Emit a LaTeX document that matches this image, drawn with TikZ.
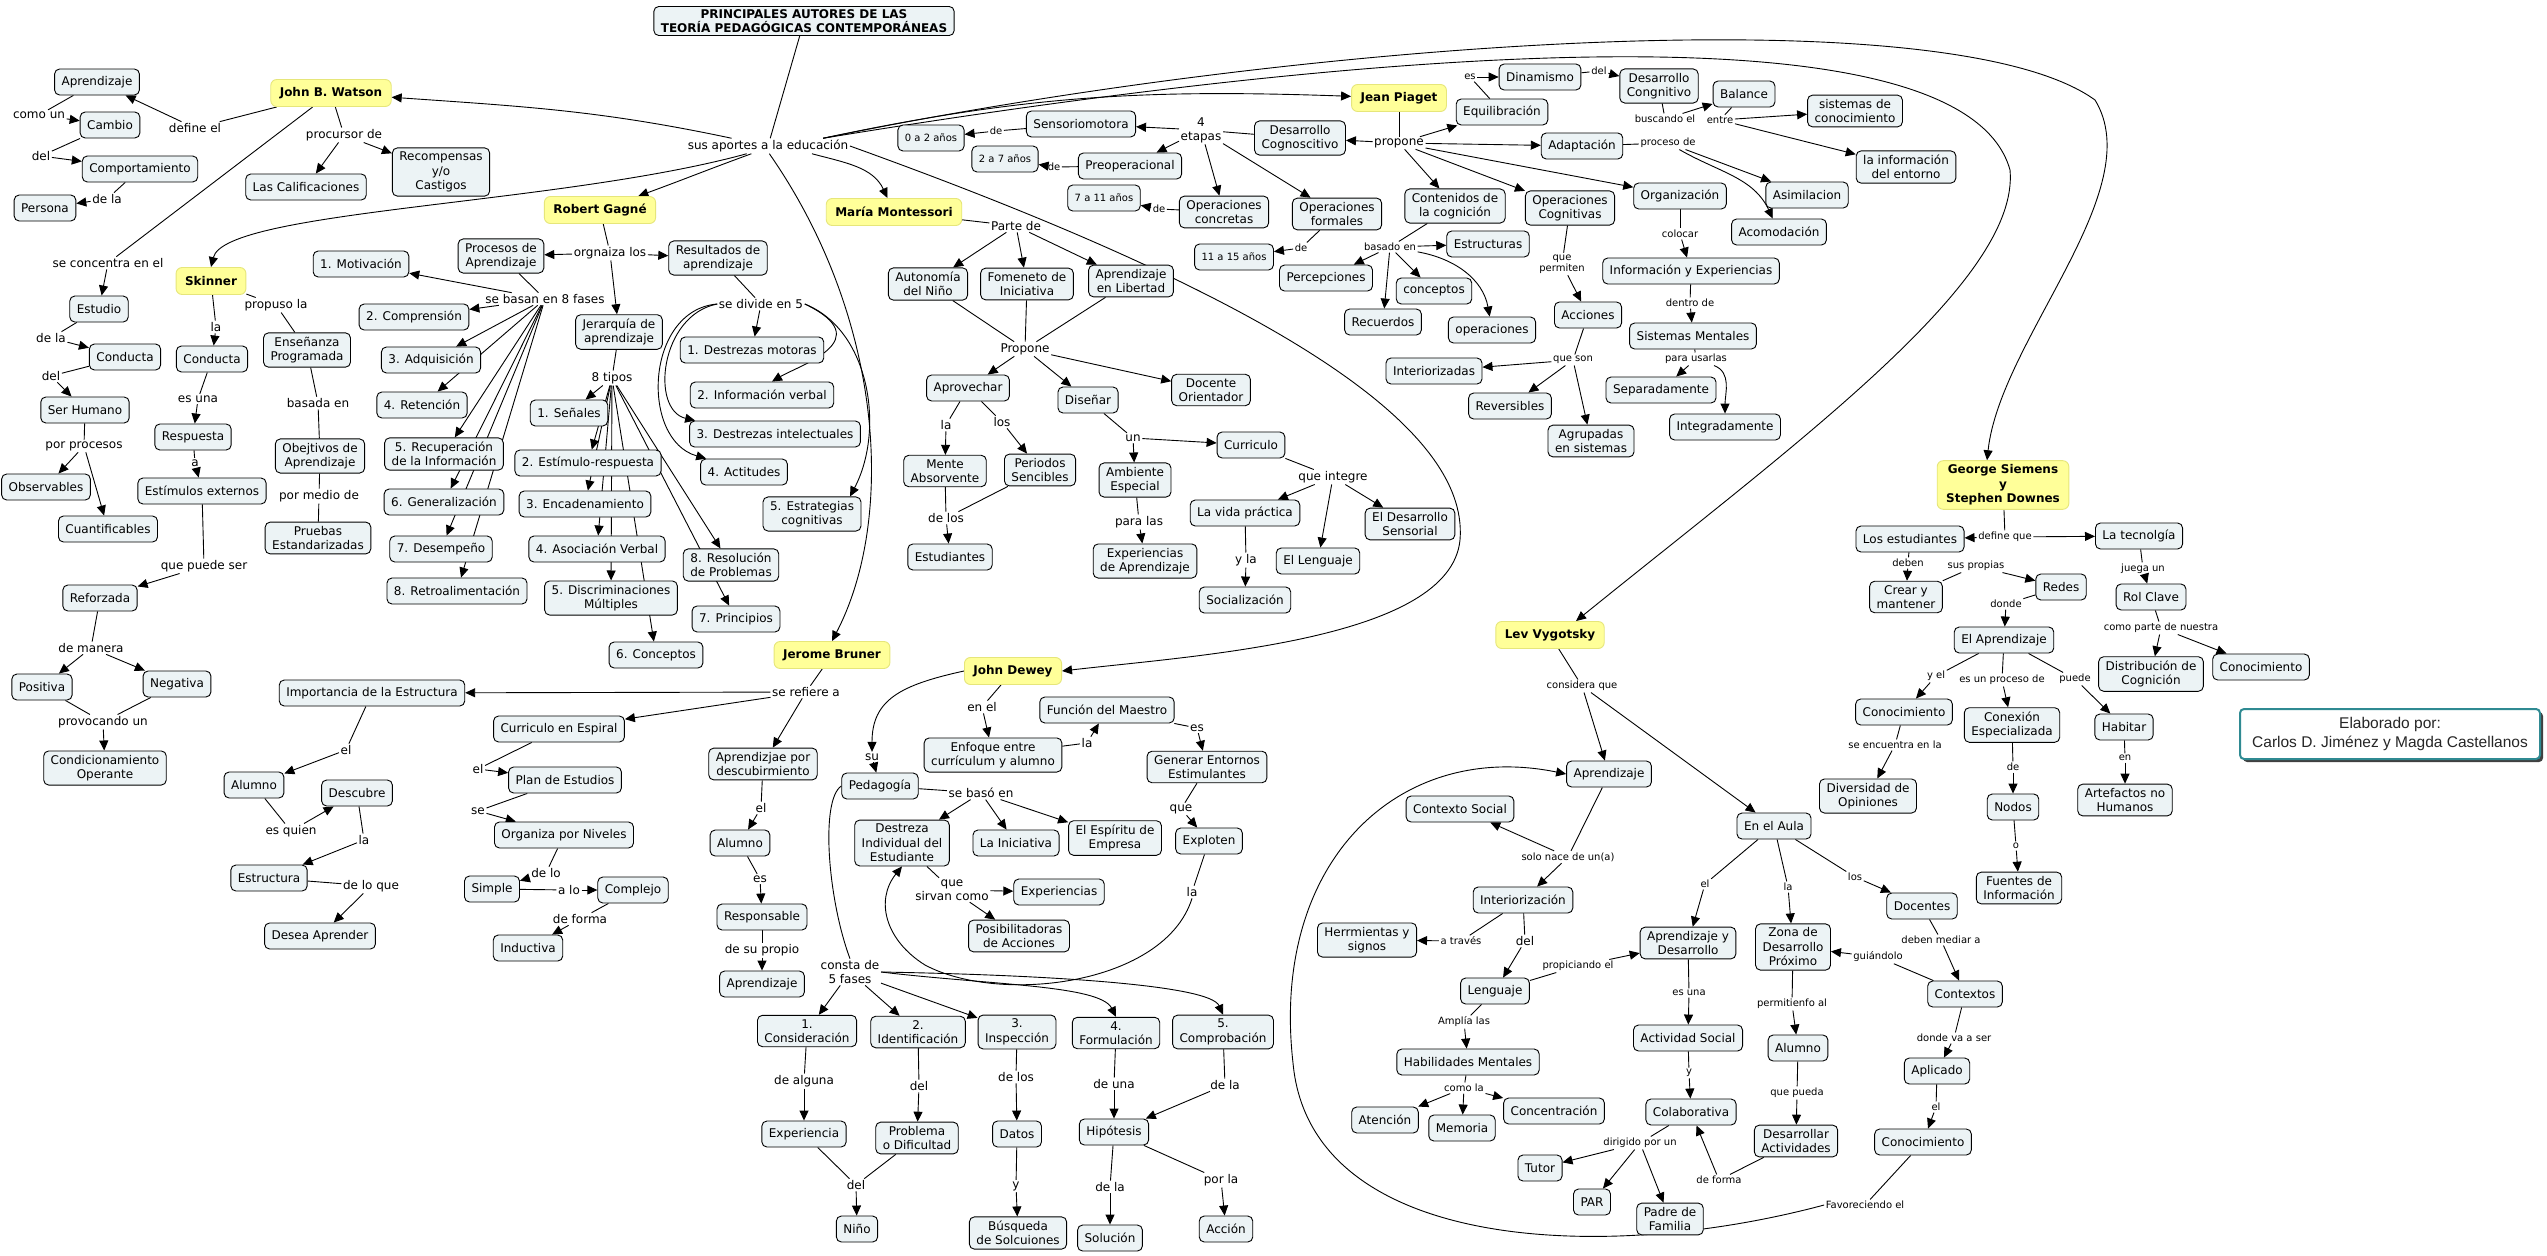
\documentclass[tikz,border=0pt]{standalone}
\usepackage{fontspec}
\setmainfont{DejaVu Sans}
\newfontfamily\creditfont{Liberation Sans}
\usetikzlibrary{arrows.meta, shadows, calc}
\definecolor{ConceptFill}{HTML}{ECF3F5}
\definecolor{AuthorYellow}{HTML}{FFFF99}
\definecolor{AuthorEdge}{HTML}{E6E67A}
\definecolor{CreditTeal}{HTML}{2F8A92}
\pgfdeclarelayer{links}
\pgfsetlayers{links,main}

\begin{document}
\begin{tikzpicture}[x=1pt, y=-1pt,
    concept/.style={draw=black, line width=0.9pt, fill=ConceptFill, rounded corners=5pt, inner xsep=7pt, inner ysep=4pt, minimum height=26pt, align=center, font=\fontsize{12}{14.5}\selectfont},
    ageBox/.style={concept, font=\fontsize{10}{12}\selectfont},
    author/.style={draw=AuthorEdge, line width=0.9pt, fill=AuthorYellow, rounded corners=6pt, inner xsep=9pt, inner ysep=4pt, minimum height=27pt, align=center, font=\bfseries\fontsize{12}{14.5}\selectfont},
    linkText/.style={inner sep=1.5pt, align=center, font=\fontsize{12}{14}\selectfont},
    smallText/.style={inner sep=1.5pt, align=center, font=\fontsize{10}{11.5}\selectfont},
    toArrow/.style={draw, line width=0.9pt, -{Triangle[length=10pt,width=9pt]}},
    plainLink/.style={draw, line width=0.9pt}]

    % Title
    \node[concept, font=\bfseries\fontsize{12}{14}\selectfont, inner ysep=3pt] (titulo) at (804,21) {PRINCIPALES AUTORES DE LAS\\TEORÍA PEDAGÓGICAS CONTEMPORÁNEAS};
    \node[linkText] (lAportes) at (768,146) {sus aportes a la educación};

    % John B. Watson
    \node[author] (watson) at (331,93) {John B. Watson};
    \node[linkText] (lDefine) at (195,128) {define el};
    \node[concept] (wAprend) at (97,82) {Aprendizaje};
    \node[linkText] (lComoUn) at (39,115) {como un};
    \node[concept] (wCambio) at (110,125) {Cambio};
    \node[linkText] (lDelW) at (41,156) {del};
    \node[concept] (wComport) at (140,169) {Comportamiento};
    \node[linkText] (lDeLaW) at (107,199) {de la};
    \node[concept] (wPersona) at (45,208) {Persona};
    \node[linkText] (lProcursor) at (344,135) {procursor de};
    \node[concept] (wCalif) at (306,187) {Las Calificaciones};
    \node[concept] (wRecomp) at (441,172) {Recompensas\\y/o\\Castigos};
    \node[linkText] (lConcentra) at (108,263) {se concentra en el};
    \node[concept] (wEstudio) at (99,309) {Estudio};
    \node[linkText] (lDeLaW2) at (51,338) {de la};
    \node[concept] (wConducta) at (125,357) {Conducta};
    \node[linkText] (lDelW2) at (51,376) {del};
    \node[concept] (wSerHum) at (85,410) {Ser Humano};
    \node[linkText] (lProcesos) at (84,446) {por procesos};
    \node[concept] (wObserv) at (46,487) {Observables};
    \node[concept] (wCuant) at (108,529) {Cuantificables};

    % Skinner
    \node[author] (skinner) at (211,281) {Skinner};
    \node[linkText] (lLaS) at (216,327) {la};
    \node[concept] (skConducta) at (212,359) {Conducta};
    \node[linkText] (lEsUna) at (198,399) {es una};
    \node[concept] (skRespuesta) at (193,437) {Respuesta};
    \node[linkText] (lA) at (195,463) {a};
    \node[concept] (skEstimulos) at (202,491) {Estímulos externos};
    \node[linkText] (lPuedeSer) at (204,566) {que puede ser};
    \node[concept] (skReforzada) at (100,598) {Reforzada};
    \node[linkText] (lManera) at (91,648) {de manera};
    \node[concept] (skPositiva) at (42,687) {Positiva};
    \node[concept] (skNegativa) at (177,684) {Negativa};
    \node[linkText] (lProvocando) at (103,722) {provocando un};
    \node[concept] (skCondic) at (105,768) {Condicionamiento\\Operante};
    \node[linkText] (lPropuso) at (276,305) {propuso la};
    \node[concept] (skEnsenanza) at (307,350) {Enseñanza\\Programada};
    \node[linkText] (lBasada) at (318,403) {basada en};
    \node[concept] (skObjetivos) at (320,456) {Obejtivos de\\Aprendizaje};
    \node[linkText] (lMedio) at (319,496) {por medio de};
    \node[concept] (skPruebas) at (318,538) {Pruebas\\Estandarizadas};

    % Robert Gagne
    \node[author] (gagne) at (600,210) {Robert Gagné};
    \node[linkText] (lOrganiza) at (610,253) {orgnaiza los};
    \node[concept] (gProcesos) at (501,256) {Procesos de\\Aprendizaje};
    \node[concept] (gResultados) at (718,258) {Resultados de\\aprendizaje};
    \node[concept] (gJerarquia) at (619,332) {Jerarquía de\\aprendizaje};
    \node[linkText] (lOchoFases) at (545,299) {se basan en 8 fases};
    \node[concept] (gMotiv) at (361,264) {1. Motivación};
    \node[concept] (gCompr) at (414,317) {2. Comprensión};
    \node[concept] (gAdqui) at (431,360) {3. Adquisición};
    \node[concept] (gReten) at (422,405) {4. Retención};
    \node[concept] (gRecup) at (444,454) {5. Recuperación\\de la Información};
    \node[concept] (gGener) at (444,502) {6. Generalización};
    \node[concept] (gDesem) at (441,549) {7. Desempeño};
    \node[concept] (gRetro) at (457,591) {8. Retroalimentación};
    \node[linkText] (lOchoTipos) at (612,378) {8 tipos};
    \node[concept] (gSenales) at (569,413) {1. Señales};
    \node[concept] (gEstResp) at (588,463) {2. Estímulo-respuesta};
    \node[concept] (gEncad) at (585,504) {3. Encadenamiento};
    \node[concept] (gAsoc) at (597,549) {4. Asociación Verbal};
    \node[concept] (gDiscr) at (611,598) {5. Discriminaciones\\Múltiples};
    \node[concept] (gConc) at (656,655) {6. Conceptos};
    \node[concept] (gPrinc) at (736,619) {7. Principios};
    \node[concept] (gResol) at (731,565) {8. Resolución\\de Problemas};
    \node[linkText] (lDivide) at (761,304) {se divide en 5};
    \node[concept] (gMotoras) at (752,350) {1. Destrezas motoras};
    \node[concept] (gVerbal) at (762,395) {2. Información verbal};
    \node[concept] (gIntelec) at (775,434) {3. Destrezas intelectuales};
    \node[concept] (gActit) at (744,472) {4. Actitudes};
    \node[concept] (gEstrat) at (812,514) {5. Estrategias\\cognitivas};

    % Jerome Bruner
    \node[author] (bruner) at (832,655) {Jerome Bruner};
    \node[linkText] (lRefiere) at (806,692) {se refiere a};
    \node[concept] (bImport) at (372,693) {Importancia de la Estructura};
    \node[concept] (bCurric) at (559,729) {Curriculo en Espiral};
    \node[concept] (bDescub) at (763,764) {Aprendizjae por\\descubirmiento};
    \node[linkText] (lElB1) at (346,750) {el};
    \node[concept] (bAlumno1) at (254,785) {Alumno};
    \node[linkText] (lEsQuien) at (291,831) {es quien};
    \node[concept] (bDescubre) at (357,793) {Descubre};
    \node[linkText] (lLaB) at (364,840) {la};
    \node[concept] (bEstruct) at (269,878) {Estructura};
    \node[linkText] (lLoQue) at (371,886) {de lo que};
    \node[concept] (bDesea) at (320,936) {Desea Aprender};
    \node[linkText] (lElB2) at (478,769) {el};
    \node[concept] (bPlan) at (565,780) {Plan de Estudios};
    \node[linkText] (lSe) at (478,811) {se};
    \node[concept] (bOrganiza) at (564,835) {Organiza por Niveles};
    \node[linkText] (lDeLo) at (546,873) {de lo};
    \node[concept] (bSimple) at (492,889) {Simple};
    \node[linkText] (lALo) at (569,890) {a lo};
    \node[concept] (bComplejo) at (633,890) {Complejo};
    \node[linkText] (lDeForma) at (580,919) {de forma};
    \node[concept] (bInductiva) at (528,948) {Inductiva};
    \node[linkText] (lElB3) at (761,808) {el};
    \node[concept] (bAlumno2) at (740,843) {Alumno};
    \node[linkText] (lEsB) at (760,879) {es};
    \node[concept] (bRespons) at (762,917) {Responsable};
    \node[linkText] (lPropio) at (762,950) {de su propio};
    \node[concept] (bAprend) at (762,984) {Aprendizaje};

    % Maria Montessori
    \node[author] (montessori) at (894,212) {María Montessori};
    \node[linkText] (lParte) at (1016,226) {Parte de};
    \node[concept] (mAutonomia) at (928,284) {Autonomía\\del Niño};
    \node[concept] (mFomento) at (1027,284) {Fomeneto de\\Iniciativa};
    \node[concept] (mLibertad) at (1131,281) {Aprendizaje\\en Libertad};
    \node[linkText] (lPropone) at (1025,349) {Propone};
    \node[concept] (mAprovechar) at (968,388) {Aprovechar};
    \node[concept] (mDisenar) at (1088,400) {Diseñar};
    \node[concept] (mDocente) at (1211,390) {Docente\\Orientador};
    \node[linkText] (lLaM) at (946,425) {la};
    \node[linkText] (lLosM) at (1002,422) {los};
    \node[concept] (mMente) at (945,471) {Mente\\Absorvente};
    \node[concept] (mPeriodos) at (1040,470) {Periodos\\Sencibles};
    \node[linkText] (lDeLos) at (946,518) {de los};
    \node[concept] (mEstud) at (950,557) {Estudiantes};
    \node[linkText] (lUn) at (1133,438) {un};
    \node[concept] (mAmbiente) at (1135,480) {Ambiente\\Especial};
    \node[concept] (mCurric) at (1251,445) {Curriculo};
    \node[linkText] (lParaLas) at (1139,522) {para las};
    \node[concept] (mExper) at (1145,561) {Experiencias\\de Aprendizaje};
    \node[linkText] (lIntegre) at (1333,477) {que integre};
    \node[concept] (mVida) at (1245,513) {La vida práctica};
    \node[concept] (mLenguaje) at (1318,561) {El Lenguaje};
    \node[concept] (mSensorial) at (1410,524) {El Desarrollo\\Sensorial};
    \node[linkText] (lYLa) at (1246,560) {y la};
    \node[concept] (mSocial) at (1245,600) {Socialización};

    % Jean Piaget
    \node[author] (piaget) at (1399,98) {Jean Piaget};
    \node[linkText] (lProponeP) at (1399,143) {propone};
    \node[concept] (pDesCog) at (1300,138) {Desarrollo\\Cognoscitivo};
    \node[linkText] (lEtapas) at (1201,130) {4\\etapas};
    \node[concept] (pSensorio) at (1081,124) {Sensoriomotora};
    \node[smallText] (lDe1) at (996,131) {de};
    \node[ageBox] (pEdad1) at (931,138) {0 a 2 años};
    \node[concept] (pPreop) at (1130,166) {Preoperacional};
    \node[smallText] (lDe2) at (1054,167) {de};
    \node[ageBox] (pEdad2) at (1005,159) {2 a 7 años};
    \node[concept] (pConcretas) at (1224,212) {Operaciones\\concretas};
    \node[smallText] (lDe3) at (1159,209) {de};
    \node[ageBox] (pEdad3) at (1104,198) {7 a 11 años};
    \node[concept] (pFormales) at (1337,214) {Operaciones\\formales};
    \node[smallText] (lDe4) at (1301,248) {de};
    \node[ageBox] (pEdad4) at (1234,257) {11 a 15 años};
    \node[smallText] (lEs) at (1470,77) {es};
    \node[concept] (pEquilib) at (1502,112) {Equilibración};
    \node[concept] (pDinam) at (1540,77) {Dinamismo};
    \node[smallText] (lDelP) at (1599,71) {del};
    \node[concept] (pDesCong) at (1659,86) {Desarrollo\\Congnitivo};
    \node[smallText] (lBuscando) at (1665,119) {buscando el};
    \node[concept] (pBalance) at (1744,94) {Balance};
    \node[smallText] (lEntre) at (1720,120) {entre};
    \node[concept] (pSistCon) at (1855,111) {sistemas de\\conocimiento};
    \node[concept] (pInfoEnt) at (1906,167) {la información\\del entorno};
    \node[concept] (pAdapt) at (1582,146) {Adaptación};
    \node[smallText] (lProceso) at (1668,143) {proceso de};
    \node[concept] (pAsim) at (1807,195) {Asimilacion};
    \node[concept] (pAcom) at (1779,232) {Acomodación};
    \node[concept] (pOrgan) at (1680,196) {Organización};
    \node[smallText] (lColocar) at (1680,234) {colocar};
    \node[concept] (pInfoExp) at (1691,271) {Información y Experiencias};
    \node[smallText] (lDentro) at (1690,303) {dentro de};
    \node[concept] (pSistMen) at (1693,336) {Sistemas Mentales};
    \node[smallText] (lUsarlas) at (1696,359) {para usarlas};
    \node[concept] (pSepar) at (1661,390) {Separadamente};
    \node[concept] (pIntegr) at (1725,427) {Integradamente};
    \node[concept] (pContenidos) at (1455,206) {Contenidos de\\la cognición};
    \node[smallText] (lBasado) at (1390,247) {basado en};
    \node[concept] (pEstruct) at (1488,244) {Estructuras};
    \node[concept] (pPercep) at (1326,278) {Percepciones};
    \node[concept] (pConceptos) at (1434,291) {conceptos};
    \node[concept] (pRecuerdos) at (1383,322) {Recuerdos};
    \node[concept] (pOperac) at (1492,330) {operaciones};
    \node[concept] (pOpCog) at (1570,208) {Operaciones\\Cognitivas};
    \node[smallText] (lPermiten) at (1562,264) {que\\permiten};
    \node[concept] (pAcciones) at (1588,315) {Acciones};
    \node[smallText] (lQueSon) at (1573,360) {que son};
    \node[concept] (pInterior) at (1434,371) {Interiorizadas};
    \node[concept] (pRevers) at (1510,406) {Reversibles};
    \node[concept] (pAgrup) at (1591,441) {Agrupadas\\en sistemas};

    % John Dewey
    \node[author] (dewey) at (1013,671) {John Dewey};
    \node[linkText] (lSu) at (872,757) {su};
    \node[concept] (dPedag) at (880,786) {Pedagogía};
    \node[linkText] (lEnEl) at (982,707) {en el};
    \node[concept] (dEnfoque) at (993,755) {Enfoque entre\\currículum y alumno};
    \node[linkText] (lLaD) at (1087,743) {la};
    \node[concept] (dFuncion) at (1107,710) {Función del Maestro};
    \node[linkText] (lEsD) at (1197,728) {es};
    \node[concept] (dGenerar) at (1207,767) {Generar Entornos\\Estimulantes};
    \node[linkText] (lQue) at (1181,809) {que};
    \node[concept] (dExploten) at (1209,841) {Exploten};
    \node[linkText] (lLaD2) at (1192,892) {la};
    \node[linkText] (lBaso) at (981,793) {se basó en};
    \node[concept] (dDestreza) at (902,843) {Destreza\\Individual del\\Estudiante};
    \node[concept] (dIniciativa) at (1016,843) {La Iniciativa};
    \node[concept] (dEspiritu) at (1115,838) {El Espíritu de\\Empresa};
    \node[linkText] (lSirvan) at (952,890) {que\\sirvan como};
    \node[concept] (dExper) at (1059,892) {Experiencias};
    \node[concept] (dPosib) at (1019,936) {Posibilitadoras\\de Acciones};
    \node[linkText] (lConsta) at (850,972) {consta de\\5 fases};
    \node[concept] (dFase1) at (807,1031) {1.\\Consideración};
    \node[concept] (dFase2) at (918,1032) {2.\\Identificación};
    \node[concept] (dFase3) at (1017,1032) {3.\\Inspección};
    \node[concept] (dFase4) at (1116,1033) {4.\\Formulación};
    \node[concept] (dFase5) at (1223,1032) {5.\\Comprobación};
    \node[linkText] (lAlguna) at (804,1081) {de alguna};
    \node[linkText] (lDelD) at (919,1086) {del};
    \node[linkText] (lDeLosD) at (1016,1077) {de los};
    \node[linkText] (lDeUna) at (1114,1084) {de una};
    \node[linkText] (lDeLaD) at (1225,1085) {de la};
    \node[concept] (dExperiencia) at (804,1134) {Experiencia};
    \node[concept] (dProblema) at (917,1138) {Problema\\o Dificultad};
    \node[concept] (dDatos) at (1017,1134) {Datos};
    \node[concept] (dHipot) at (1114,1132) {Hipótesis};
    \node[linkText] (lDelD2) at (856,1185) {del};
    \node[linkText] (lY) at (1016,1186) {y};
    \node[linkText] (lDeLaD2) at (1110,1187) {de la};
    \node[linkText] (lPorLa) at (1221,1180) {por la};
    \node[concept] (dNino) at (857,1229) {Niño};
    \node[concept] (dBusq) at (1018,1233) {Búsqueda\\de Solcuiones};
    \node[concept] (dSolucion) at (1110,1238) {Solución};
    \node[concept] (dAccion) at (1226,1229) {Acción};

    % Lev Vygotsky
    \node[author] (vygotsky) at (1550,635) {Lev Vygotsky};
    \node[smallText] (lConsidera) at (1582,686) {considera que};
    \node[concept] (vAprend) at (1609,774) {Aprendizaje};
    \node[concept] (vAula) at (1774,826) {En el Aula};
    \node[smallText] (lNace) at (1568,857) {solo nace de un(a)};
    \node[concept] (vContexto) at (1460,809) {Contexto Social};
    \node[concept] (vInterior) at (1523,900) {Interiorización};
    \node[smallText] (lTraves) at (1461,941) {a través};
    \node[concept] (vHerram) at (1367,940) {Herrmientas y\\signos};
    \node[linkText] (lDelV) at (1525,941) {del};
    \node[concept] (vLenguaje) at (1495,991) {Lenguaje};
    \node[smallText] (lPropiciando) at (1578,966) {propiciando el};
    \node[concept] (vAprDes) at (1688,943) {Aprendizaje y\\Desarrollo};
    \node[smallText] (lAmplia) at (1464,1022) {Amplía las};
    \node[concept] (vHabil) at (1468,1062) {Habilidades Mentales};
    \node[smallText] (lComoLa) at (1464,1088) {como la};
    \node[concept] (vAtencion) at (1385,1120) {Atención};
    \node[concept] (vMemoria) at (1462,1128) {Memoria};
    \node[concept] (vConcent) at (1554,1111) {Concentración};
    \node[smallText] (lElV) at (1705,884) {el};
    \node[smallText] (lLaV) at (1788,887) {la};
    \node[smallText] (lLosV) at (1855,877) {los};
    \node[concept] (vZona) at (1793,947) {Zona de\\Desarrollo\\Próximo};
    \node[concept] (vDocentes) at (1922,906) {Docentes};
    \node[smallText] (lMediar) at (1941,940) {deben mediar a};
    \node[concept] (vContextos) at (1965,994) {Contextos};
    \node[smallText] (lGuiando) at (1878,957) {guiándolo};
    \node[smallText] (lVaSer) at (1954,1038) {donde va a ser};
    \node[concept] (vAplicado) at (1937,1071) {Aplicado};
    \node[smallText] (lElV2) at (1936,1107) {el};
    \node[concept] (vConoc) at (1923,1142) {Conocimiento};
    \node[smallText] (lFavorec) at (1865,1205) {Favoreciendo el};
    \node[smallText] (lEsUnaV) at (1689,993) {es una};
    \node[concept] (vActSoc) at (1688,1038) {Actividad Social};
    \node[smallText] (lYV) at (1689,1073) {y};
    \node[concept] (vColab) at (1691,1112) {Colaborativa};
    \node[smallText] (lDirigido) at (1640,1143) {dirigido por un};
    \node[concept] (vTutor) at (1540,1168) {Tutor};
    \node[concept] (vPar) at (1592,1202) {PAR};
    \node[concept] (vPadre) at (1670,1219) {Padre de\\Familia};
    \node[smallText] (lPermit) at (1792,1004) {permitienfo al};
    \node[concept] (vAlumno) at (1798,1048) {Alumno};
    \node[smallText] (lPueda) at (1797,1093) {que pueda};
    \node[concept] (vDesarr) at (1796,1141) {Desarrollar\\Actividades};
    \node[smallText] (lDeFormaV) at (1719,1180) {de forma};

    % George Siemens y Stephen Downes
    \node[author] (siemens) at (2003,485) {George Siemens\\y\\Stephen Downes};
    \node[smallText] (lDefineQue) at (2005,537) {define que};
    \node[concept] (gsEstud) at (1910,539) {Los estudiantes};
    \node[concept] (gsTecno) at (2139,536) {La tecnolgía};
    \node[smallText] (lDeben) at (1908,563) {deben};
    \node[concept] (gsCrear) at (1906,597) {Crear y\\mantener};
    \node[smallText] (lPropias) at (1976,566) {sus propias};
    \node[concept] (gsRedes) at (2061,587) {Redes};
    \node[smallText] (lDonde) at (2006,604) {donde};
    \node[concept] (gsAprend) at (2004,640) {El Aprendizaje};
    \node[smallText] (lYEl) at (1936,676) {y el};
    \node[smallText] (lProcesoDe) at (2002,680) {es un proceso de};
    \node[smallText] (lPuede) at (2075,679) {puede};
    \node[concept] (gsConoc) at (1904,712) {Conocimiento};
    \node[smallText] (lEncuentra) at (1895,745) {se encuentra en la};
    \node[concept] (gsDivers) at (1868,796) {Diversidad de\\Opiniones};
    \node[concept] (gsConex) at (2012,725) {Conexión\\Especializada};
    \node[smallText] (lDeS) at (2013,767) {de};
    \node[concept] (gsNodos) at (2013,807) {Nodos};
    \node[smallText] (lO) at (2016,846) {o};
    \node[concept] (gsFuentes) at (2019,888) {Fuentes de\\Información};
    \node[concept] (gsHabitar) at (2124,727) {Habitar};
    \node[smallText] (lEn) at (2125,758) {en};
    \node[concept] (gsArtef) at (2125,800) {Artefactos no\\Humanos};
    \node[smallText] (lJuega) at (2143,569) {juega un};
    \node[concept] (gsRol) at (2151,597) {Rol Clave};
    \node[smallText] (lComoParte) at (2161,628) {como parte de nuestra};
    \node[concept] (gsDistrib) at (2151,674) {Distribución de\\Cognición};
    \node[concept] (gsConoc2) at (2261,667) {Conocimiento};

    % Credits
    \node[draw=CreditTeal, line width=2pt, fill=white, rounded corners=4pt, minimum width=300pt, minimum height=50pt, align=center, font=\creditfont\fontsize{15.5}{19}\selectfont, text=black!85, drop shadow={shadow xshift=3pt, shadow yshift=-3pt, fill=black!75, opacity=1}] (credito) at (2390,734) {Elaborado por:\\Carlos D. Jiménez y Magda Castellanos};

    \begin{pgfonlayer}{links}
        \fill[white] (0,0) rectangle (2547,1255);
        % Title links
        \path (titulo) edge[plainLink] (lAportes);
        \draw[toArrow] (lAportes) to[out=168,in=-4] (watson);
        \draw[toArrow] (lAportes.205) to[out=200,in=20] (gagne);
        \draw[toArrow] (lAportes.200) .. controls (560,205) and (225,210) .. (skinner.north);
        \draw[toArrow] (lAportes.-10) to[out=-15,in=115] (montessori);
        \draw[toArrow] (lAportes.-80) .. controls (885,320) and (895,520) .. (bruner.north);
        \draw[toArrow] (lAportes.east) .. controls (1250,290) and (1470,420) .. (1460,540) .. controls (1450,640) and (1200,655) .. (dewey.east);
        \draw[toArrow] (lAportes.8) to[out=12,in=178] (piaget);
        \draw[toArrow] (lAportes.8) .. controls (1300,60) and (1960,-10) .. (2010,170) .. controls (2020,280) and (1800,440) .. ([xshift=26pt]vygotsky.north);
        \draw[toArrow] (lAportes.8) .. controls (1300,40) and (1950,-5) .. (2095,100) .. controls (2150,190) and (2000,340) .. ([xshift=-16pt]siemens.north);

        % Watson
        \path (watson) edge[plainLink] (lDefine) (lDefine) edge[toArrow] (wAprend);
        \path (wAprend) edge[plainLink] (lComoUn) (lComoUn) edge[toArrow] (wCambio);
        \path (wCambio) edge[plainLink] (lDelW) (lDelW) edge[toArrow] (wComport);
        \path (wComport) edge[plainLink] (lDeLaW) (lDeLaW) edge[toArrow] (wPersona);
        \path (watson) edge[plainLink] (lProcursor) (lProcursor) edge[toArrow] (wCalif) edge[toArrow] (wRecomp);
        \path (watson) edge[plainLink] (lConcentra) (lConcentra) edge[toArrow] (wEstudio);
        \path (wEstudio) edge[plainLink] (lDeLaW2) (lDeLaW2) edge[toArrow] (wConducta);
        \path (wConducta) edge[plainLink] (lDelW2) (lDelW2) edge[toArrow] (wSerHum);
        \path (wSerHum) edge[plainLink] (lProcesos) (lProcesos) edge[toArrow] (wObserv) edge[toArrow] (wCuant);

        % Skinner
        \path (skinner) edge[plainLink] (lLaS) (lLaS) edge[toArrow] (skConducta);
        \path (skConducta) edge[plainLink] (lEsUna) (lEsUna) edge[toArrow] (skRespuesta);
        \path (skRespuesta) edge[plainLink] (lA) (lA) edge[toArrow] (skEstimulos);
        \path (skEstimulos) edge[plainLink] (lPuedeSer) (lPuedeSer) edge[toArrow] (skReforzada);
        \path (skReforzada) edge[plainLink] (lManera) (lManera) edge[toArrow] (skPositiva) edge[toArrow] (skNegativa);
        \path (skPositiva) edge[plainLink] (lProvocando) (skNegativa) edge[plainLink] (lProvocando) (lProvocando) edge[toArrow] (skCondic);
        \path (skinner) edge[plainLink] (lPropuso) (lPropuso) edge[plainLink] (skEnsenanza);
        \path (skEnsenanza) edge[plainLink] (lBasada) (lBasada) edge[plainLink] (skObjetivos);
        \path (skObjetivos) edge[plainLink] (lMedio) (lMedio) edge[plainLink] (skPruebas);

        % Gagne
        \path (gagne) edge[plainLink] (lOrganiza) (lOrganiza) edge[toArrow] (gProcesos) edge[toArrow] (gResultados) edge[toArrow] (gJerarquia);
        \path (gProcesos) edge[plainLink] (lOchoFases);
        \path (lOchoFases) edge[toArrow] (gMotiv) edge[toArrow] (gCompr) edge[toArrow] (gAdqui) edge[toArrow] (gReten)
            edge[toArrow] (gRecup) edge[toArrow] (gGener) edge[toArrow] (gDesem) edge[toArrow] (gRetro);
        \path (gJerarquia) edge[plainLink] (lOchoTipos);
        \path (lOchoTipos) edge[toArrow] (gSenales) edge[toArrow] (gEstResp) edge[toArrow] (gEncad) edge[toArrow] (gAsoc)
            edge[toArrow] (gDiscr) edge[toArrow] (gConc) edge[toArrow] (gPrinc) edge[toArrow] (gResol);
        \path (gResultados) edge[plainLink] (lDivide) (lDivide) edge[toArrow] (gMotoras);
        \draw[toArrow] (lDivide.east) .. controls (880,340) and (800,365) .. ([xshift=10pt]gVerbal.north);
        \draw[toArrow] (lDivide.west) .. controls (660,315) and (650,410) .. ([xshift=6pt]gIntelec.north west);
        \draw[toArrow] (lDivide.west) .. controls (645,310) and (640,440) .. ([xshift=6pt]gActit.north west);
        \draw[toArrow] (lDivide.east) .. controls (870,330) and (885,430) .. ([xshift=38pt]gEstrat.north);

        % Bruner
        \path (bruner) edge[plainLink] (lRefiere) (lRefiere) edge[toArrow] (bImport) edge[toArrow] (bCurric) edge[toArrow] (bDescub);
        \path (bImport) edge[plainLink] (lElB1) (lElB1) edge[toArrow] (bAlumno1);
        \path (bAlumno1) edge[plainLink] (lEsQuien) (lEsQuien) edge[toArrow] (bDescubre);
        \path (bDescubre) edge[plainLink] (lLaB) (lLaB) edge[toArrow] (bEstruct);
        \path (bEstruct) edge[plainLink] (lLoQue) (lLoQue) edge[toArrow] (bDesea);
        \path (bCurric) edge[plainLink] (lElB2) (lElB2) edge[toArrow] (bPlan);
        \path (bPlan) edge[plainLink] (lSe) (lSe) edge[toArrow] (bOrganiza);
        \path (bOrganiza) edge[plainLink] (lDeLo) (lDeLo) edge[toArrow] (bSimple);
        \path (bSimple) edge[plainLink] (lALo) (lALo) edge[toArrow] (bComplejo);
        \path (bComplejo) edge[plainLink] (lDeForma) (lDeForma) edge[toArrow] (bInductiva);
        \path (bDescub) edge[plainLink] (lElB3) (lElB3) edge[toArrow] (bAlumno2);
        \path (bAlumno2) edge[plainLink] (lEsB) (lEsB) edge[toArrow] (bRespons);
        \path (bRespons) edge[plainLink] (lPropio) (lPropio) edge[toArrow] (bAprend);

        % Montessori
        \path (montessori) edge[plainLink] (lParte) (lParte) edge[toArrow] (mAutonomia) edge[toArrow] (mFomento) edge[toArrow] (mLibertad);
        \path (mAutonomia) edge[plainLink] (lPropone) (mFomento) edge[plainLink] (lPropone) (mLibertad) edge[plainLink] (lPropone);
        \path (lPropone) edge[toArrow] (mAprovechar) edge[toArrow] (mDisenar) edge[toArrow] (mDocente);
        \path (mAprovechar) edge[plainLink] (lLaM) edge[plainLink] (lLosM) (lLaM) edge[toArrow] (mMente) (lLosM) edge[toArrow] (mPeriodos);
        \path (mMente) edge[plainLink] (lDeLos) (mPeriodos) edge[plainLink] (lDeLos) (lDeLos) edge[toArrow] (mEstud);
        \path (mDisenar) edge[plainLink] (lUn) (lUn) edge[toArrow] (mAmbiente) edge[toArrow] (mCurric);
        \path (mAmbiente) edge[plainLink] (lParaLas) (lParaLas) edge[toArrow] (mExper);
        \path (mCurric) edge[plainLink] (lIntegre) (lIntegre) edge[toArrow] (mVida) edge[toArrow] (mLenguaje) edge[toArrow] (mSensorial);
        \path (mVida) edge[plainLink] (lYLa) (lYLa) edge[toArrow] (mSocial);

        % Piaget
        \path (piaget) edge[plainLink] (lProponeP);
        \path (lProponeP) edge[toArrow] (pDesCog) edge[toArrow] (pEquilib) edge[toArrow] (pAdapt) edge[toArrow] (pContenidos) edge[toArrow] (pOpCog) edge[toArrow] (pOrgan);
        \path (pDesCog) edge[plainLink] (lEtapas) (lEtapas) edge[toArrow] (pSensorio) edge[toArrow] (pPreop) edge[toArrow] (pConcretas) edge[toArrow] (pFormales);
        \path (pSensorio) edge[plainLink] (lDe1) (lDe1) edge[toArrow] (pEdad1);
        \path (pPreop) edge[plainLink] (lDe2) (lDe2) edge[toArrow] (pEdad2);
        \path (pConcretas) edge[plainLink] (lDe3) (lDe3) edge[toArrow] (pEdad3);
        \path (pFormales) edge[plainLink] (lDe4) (lDe4) edge[toArrow] (pEdad4);
        \path (pEquilib) edge[plainLink] (lEs) (lEs) edge[toArrow] (pDinam);
        \path (pDinam) edge[plainLink] (lDelP) (lDelP) edge[toArrow] (pDesCong);
        \path (pDesCong) edge[plainLink] (lBuscando) (lBuscando) edge[toArrow] (pBalance);
        \path (pBalance) edge[plainLink] (lEntre) (lEntre) edge[toArrow] (pSistCon) edge[toArrow] (pInfoEnt);
        \path (pAdapt) edge[plainLink] (lProceso) (lProceso) edge[toArrow] (pAsim) edge[toArrow, out=-30, in=115] (pAcom);
        \path (pOrgan) edge[plainLink] (lColocar) (lColocar) edge[toArrow] (pInfoExp);
        \path (pInfoExp) edge[plainLink] (lDentro) (lDentro) edge[toArrow] (pSistMen);
        \path (pSistMen) edge[plainLink] (lUsarlas) (lUsarlas) edge[toArrow] (pSepar) edge[toArrow, out=-20, in=90] (pIntegr);
        \path (pContenidos) edge[plainLink] (lBasado);
        \path (lBasado) edge[toArrow] (pEstruct) edge[toArrow] (pPercep) edge[toArrow] (pConceptos) edge[toArrow] (pRecuerdos) edge[toArrow, out=-10, in=100] (pOperac);
        \path (pOpCog) edge[plainLink] (lPermiten) (lPermiten) edge[toArrow] (pAcciones);
        \path (pAcciones) edge[plainLink] (lQueSon) (lQueSon) edge[toArrow] (pInterior) edge[toArrow] (pRevers) edge[toArrow] (pAgrup);

        % Dewey
        \draw[toArrow] (dewey.west) .. controls (900,685) and (872,700) .. (lSu.north);
        \path (lSu) edge[toArrow] (dPedag);
        \path (dewey) edge[plainLink] (lEnEl) (lEnEl) edge[toArrow] (dEnfoque);
        \path (dEnfoque) edge[plainLink] (lLaD) (lLaD) edge[toArrow] (dFuncion);
        \path (dFuncion) edge[plainLink] (lEsD) (lEsD) edge[toArrow] (dGenerar);
        \path (dGenerar) edge[plainLink] (lQue) (lQue) edge[toArrow] (dExploten);
        \path (dExploten) edge[plainLink] (lLaD2);
        \draw[toArrow] (lLaD2.south) .. controls (1165,985) and (1000,1005) .. (925,965) .. controls (885,940) and (875,900) .. (dDestreza.south);
        \path (dPedag) edge[plainLink] (lBaso) (lBaso) edge[toArrow] (dDestreza) edge[toArrow] (dIniciativa) edge[toArrow] (dEspiritu);
        \path (dDestreza) edge[plainLink] (lSirvan) (lSirvan) edge[toArrow] (dExper) edge[toArrow] (dPosib);
        \draw[plainLink] (dPedag.west) .. controls (820,800) and (828,900) .. (lConsta.north);
        \path (lConsta) edge[toArrow] (dFase1) edge[toArrow] (dFase2) edge[toArrow] (dFase3);
        \draw[toArrow] (lConsta.east) .. controls (990,985) and (1100,985) .. (dFase4.north);
        \draw[toArrow] (lConsta.east) .. controls (1050,975) and (1210,985) .. (dFase5.north);
        \path (dFase1) edge[plainLink] (lAlguna) (lAlguna) edge[toArrow] (dExperiencia);
        \path (dFase2) edge[plainLink] (lDelD) (lDelD) edge[toArrow] (dProblema);
        \path (dFase3) edge[plainLink] (lDeLosD) (lDeLosD) edge[toArrow] (dDatos);
        \path (dFase4) edge[plainLink] (lDeUna) (lDeUna) edge[toArrow] (dHipot);
        \path (dFase5) edge[plainLink] (lDeLaD) (lDeLaD) edge[toArrow] (dHipot);
        \path (dExperiencia) edge[plainLink] (lDelD2) (dProblema) edge[plainLink] (lDelD2) (lDelD2) edge[toArrow] (dNino);
        \path (dDatos) edge[plainLink] (lY) (lY) edge[toArrow] (dBusq);
        \path (dHipot) edge[plainLink] (lDeLaD2) edge[plainLink] (lPorLa) (lDeLaD2) edge[toArrow] (dSolucion) (lPorLa) edge[toArrow] (dAccion);

        % Vygotsky
        \path (vygotsky) edge[plainLink] (lConsidera) (lConsidera) edge[toArrow] (vAprend) edge[toArrow] (vAula);
        \path (vAprend) edge[plainLink] (lNace) (lNace) edge[toArrow] (vContexto) edge[toArrow] (vInterior);
        \path (vInterior) edge[plainLink] (lTraves) (lTraves) edge[toArrow] (vHerram);
        \path (vInterior) edge[plainLink] (lDelV) (lDelV) edge[toArrow] (vLenguaje);
        \path (vLenguaje) edge[plainLink] (lPropiciando) (lPropiciando) edge[toArrow] (vAprDes);
        \path (vLenguaje) edge[plainLink] (lAmplia) (lAmplia) edge[toArrow] (vHabil);
        \path (vHabil) edge[plainLink] (lComoLa) (lComoLa) edge[toArrow] (vAtencion) edge[toArrow] (vMemoria) edge[toArrow] (vConcent);
        \path (vAula) edge[plainLink] (lElV) edge[plainLink] (lLaV) edge[plainLink] (lLosV);
        \path (lElV) edge[toArrow] (vAprDes) (lLaV) edge[toArrow] (vZona) (lLosV) edge[toArrow] (vDocentes);
        \path (vAprDes) edge[plainLink] (lEsUnaV) (lEsUnaV) edge[toArrow] (vActSoc);
        \path (vActSoc) edge[plainLink] (lYV) (lYV) edge[toArrow] (vColab);
        \path (vColab) edge[plainLink] (lDirigido) (lDirigido) edge[toArrow] (vTutor) edge[toArrow] (vPar) edge[toArrow] (vPadre);
        \path (vZona) edge[plainLink] (lPermit) (lPermit) edge[toArrow] (vAlumno);
        \path (vAlumno) edge[plainLink] (lPueda) (lPueda) edge[toArrow] (vDesarr);
        \path (vDesarr) edge[plainLink] (lDeFormaV) (lDeFormaV) edge[toArrow] (vColab);
        \path (vDocentes) edge[plainLink] (lMediar) (lMediar) edge[toArrow] (vContextos);
        \path (vContextos) edge[plainLink] (lGuiando) (lGuiando) edge[toArrow] (vZona);
        \path (vContextos) edge[plainLink] (lVaSer) (lVaSer) edge[toArrow] (vAplicado);
        \path (vAplicado) edge[plainLink] (lElV2) (lElV2) edge[toArrow] (vConoc);
        \path (vConoc) edge[plainLink] (lFavorec);
        \draw[toArrow] (lFavorec.west) .. controls (1600,1265) and (1310,1250) .. (1293,1063) .. controls (1270,860) and (1400,740) .. (vAprend.west);

        % Siemens y Downes
        \path (siemens) edge[plainLink] (lDefineQue) (lDefineQue) edge[toArrow] (gsEstud) edge[toArrow] (gsTecno);
        \path (gsEstud) edge[plainLink] (lDeben) (lDeben) edge[toArrow] (gsCrear);
        \path (gsCrear) edge[plainLink] (lPropias) (lPropias) edge[toArrow] (gsRedes);
        \path (gsRedes) edge[plainLink] (lDonde) (lDonde) edge[toArrow] (gsAprend);
        \path (gsAprend) edge[plainLink] (lYEl) edge[plainLink] (lProcesoDe) edge[plainLink] (lPuede);
        \path (lYEl) edge[toArrow] (gsConoc) (lProcesoDe) edge[toArrow] (gsConex) (lPuede) edge[toArrow] (gsHabitar);
        \path (gsConoc) edge[plainLink] (lEncuentra) (lEncuentra) edge[toArrow] (gsDivers);
        \path (gsConex) edge[plainLink] (lDeS) (lDeS) edge[toArrow] (gsNodos);
        \path (gsNodos) edge[plainLink] (lO) (lO) edge[toArrow] (gsFuentes);
        \path (gsHabitar) edge[plainLink] (lEn) (lEn) edge[toArrow] (gsArtef);
        \path (gsTecno) edge[plainLink] (lJuega) (lJuega) edge[toArrow] (gsRol);
        \path (gsRol) edge[plainLink] (lComoParte) (lComoParte) edge[toArrow] (gsDistrib) edge[toArrow] (gsConoc2);
    \end{pgfonlayer}

    \pgfresetboundingbox
    \useasboundingbox (0,0) rectangle (2547,1255);
\end{tikzpicture}
\end{document}
